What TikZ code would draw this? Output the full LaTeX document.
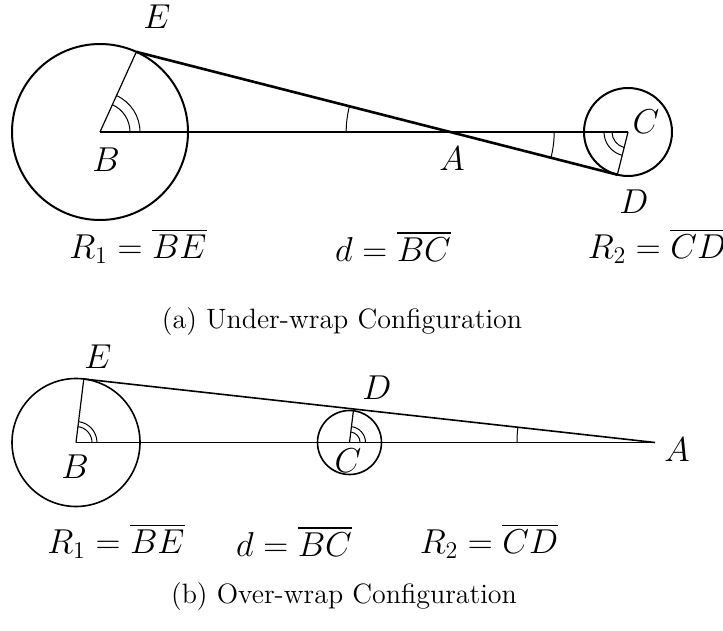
\documentclass[tikz,border=0pt]{standalone}
\usepackage{amsmath}
\usepackage{tikz}
\usetikzlibrary{angles}

\begin{document}
\begin{tikzpicture}[
    x=0.5pt, y=0.5pt,
    pt/.style={font=\fontsize{17}{20}\selectfont, inner sep=0pt},
    eqn/.style={font=\fontsize{17}{20}\selectfont, inner sep=0pt},
    capt/.style={font=\fontsize{14}{17}\selectfont, inner sep=0pt},
    wheel/.style={line width=1pt},
    axis/.style={line width=0.6pt},
    belt/.style={line width=1.3pt},
    anglemark/.style={draw, line width=0.5pt}
  ]
    \useasboundingbox (0,0) rectangle (723,-631);
    % (a) under-wrap
    \coordinate (aB) at (100,-132);
    \coordinate (aC) at (628,-132);
    \coordinate (aE) at ([shift={(65.6:88)}]aB);
    \coordinate (aD) at ([shift={(256:44)}]aC);
    \coordinate (aA) at (intersection of aE--aD and aB--aC);
    \draw[wheel] (aB) circle[radius=88];
    \draw[wheel] (aC) circle[radius=44];
    \draw[axis] (aB) -- (aC);
    \draw[axis] (aB) -- (aE);
    \draw[axis] (aC) -- (aD);
    \draw[belt] (aE) -- (aD);
    \pic[anglemark, angle radius=15pt] {angle = aC--aB--aE};
    \pic[anglemark, angle radius=20pt] {angle = aC--aB--aE};
    \pic[anglemark, angle radius=8pt] {angle = aB--aC--aD};
    \pic[anglemark, angle radius=12pt] {angle = aB--aC--aD};
    \pic[anglemark, angle radius=52pt] {angle = aE--aA--aB};
    \pic[anglemark, angle radius=52pt] {angle = aD--aA--aC};
    \node[pt] (aElab) at (157,-17) {$E$};
    \node[pt] (aBlab) at (106,-160) {$B$};
    \node[pt] (aAlab) at (452,-159) {$A$};
    \node[pt] (aClab) at (646,-122) {$C$};
    \node[pt] (aDlab) at (634,-202) {$D$};
    \node[eqn] (aR1) at (138,-246) {$R_1=\overline{BE}$};
    \node[eqn] (ad) at (393,-246) {$d=\overline{BC}$};
    \node[eqn] (aR2) at (657,-246) {$R_2=\overline{CD}$};
    \node[capt] (acap) at (342,-322) {(a) Under-wrap Configuration};
    % (b) over-wrap
    \coordinate (bB) at (76,-442.5);
    \coordinate (bC) at (349.5,-442.5);
    \coordinate (bA) at (655,-442.5);
    \coordinate (bE) at ([shift={(83:64)}]bB);
    \coordinate (bD) at ([shift={(83:32)}]bC);
    \draw[wheel, line width=0.8pt] (bB) circle[radius=64];
    \draw[wheel, line width=0.8pt] (bC) circle[radius=32];
    \draw[axis] (bB) -- (bA);
    \draw[axis] (bB) -- (bE);
    \draw[axis] (bC) -- (bD);
    \draw[axis, line width=0.8pt] (bE) -- (bA);
    \pic[anglemark, angle radius=8pt] {angle = bC--bB--bE};
    \pic[anglemark, angle radius=10.5pt] {angle = bC--bB--bE};
    \pic[anglemark, angle radius=5.3pt] {angle = bA--bC--bD};
    \pic[anglemark, angle radius=8pt] {angle = bA--bC--bD};
    \pic[anglemark, angle radius=69pt] {angle = bE--bA--bB};
    \node[pt] (bElab) at (98,-357) {$E$};
    \node[pt] (bBlab) at (75,-467) {$B$};
    \node[pt] (bClab) at (348,-461) {$C$};
    \node[pt] (bDlab) at (377,-388) {$D$};
    \node[pt] (bAlab) at (677,-450) {$A$};
    \node[eqn] (bR1) at (116,-541) {$R_1=\overline{BE}$};
    \node[eqn] (bd) at (294,-541) {$d=\overline{BC}$};
    \node[eqn] (bR2) at (489,-541) {$R_2=\overline{CD}$};
    \node[capt] (bcap) at (344,-597) {(b) Over-wrap Configuration};
  \end{tikzpicture}
\end{document}
